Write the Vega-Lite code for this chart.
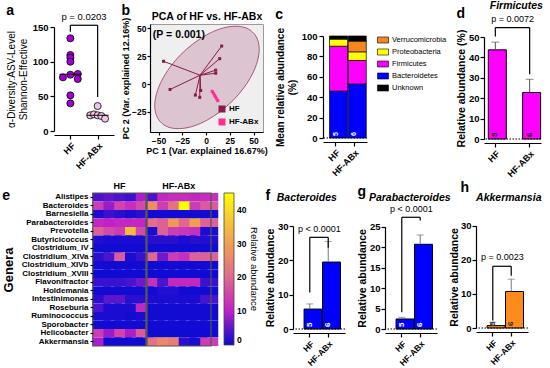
{
"$schema": "https://vega.github.io/schema/vega-lite/v6.json",
"padding": {"left": 2, "top": 0, "right": 0, "bottom": 0},
"spacing": 2,
"config": {
  "font": "Liberation Sans",
  "view": {"stroke": null},
  "axis": {"labelFont": "Liberation Sans", "titleFont": "Liberation Sans", "labelFontSize": 9.5, "labelFontWeight": "bold", "labelColor": "#000", "titleFontSize": 10.5, "titleFontWeight": "bold", "titleColor": "#000", "domainColor": "#000", "tickColor": "#000", "domainWidth": 1.2, "tickWidth": 1.2, "tickSize": 4, "grid": false, "labelPadding": 2, "titlePadding": 4, "labelOverlap": false},
  "title": {"anchor": "start", "frame": "bounds", "fontSize": 14, "fontWeight": "bold", "font": "Liberation Sans", "color": "#000", "offset": 2},
  "legend": {"labelFont": "Liberation Sans", "titleFont": "Liberation Sans", "labelColor": "#000", "titleColor": "#000"}
},
"resolve": {"scale": {"color": "independent"}},
"vconcat": [
{
  "spacing": 7,
  "align": "each",
  "resolve": {"scale": {"color": "independent"}},
  "hconcat": [
  {
    "width": 60, "height": 107,
    "title": {"text": "a", "offset": -6},
    "resolve": {"axis": {"x": "independent", "y": "independent"}},
    "layer": [
      {
        "data": {"values": [
          {"group":"HF","v":133.7,"lane":0},{"group":"HF","v":109.6,"lane":0},{"group":"HF","v":105.8,"lane":0},{"group":"HF","v":100,"lane":0},
          {"group":"HF","v":81.2,"lane":0},{"group":"HF","v":77.4,"lane":-2},{"group":"HF","v":82.2,"lane":2},{"group":"HF","v":75,"lane":2},
          {"group":"HF","v":51.4,"lane":0},{"group":"HF","v":39.9,"lane":0},
          {"group":"HF-ABx","v":36,"lane":0},{"group":"HF-ABx","v":22.6,"lane":-2},{"group":"HF-ABx","v":24,"lane":-1},
          {"group":"HF-ABx","v":22.6,"lane":0},{"group":"HF-ABx","v":21.6,"lane":1},{"group":"HF-ABx","v":17.8,"lane":2}
        ]},
        "mark": {"type": "circle", "size": 50, "stroke": "#000", "strokeWidth": 0.8, "opacity": 1},
        "encoding": {
          "x": {"field": "group", "type": "nominal", "scale": {"type": "point", "padding": 0.6, "domain": ["HF","HF-ABx"]}, "axis": {"title": null, "labelAngle": -45, "offset": 4, "labelFontSize": 9}},
          "xOffset": {"field": "lane", "type": "quantitative", "scale": {"domain": [-3,3], "range": [-11.1, 11.1]}},
          "y": {"field": "v", "type": "quantitative", "scale": {"domain": [0,150], "nice": false, "range": [107, 3]}, "axis": {"values": [0,50,100,150], "title": ["α-Diversity:ASV-Level","Shannon-Effective"], "titleFontWeight": "normal", "titleFontSize": 10}},
          "fill": {"field": "group", "type": "nominal", "scale": {"domain": ["HF","HF-ABx"], "range": ["#a300d6","#f2c4ea"]}, "legend": null}
        }
      },
      {
        "data": {"values": [{"group":"HF","v":81.7},{"group":"HF-ABx","v":22.6}]},
        "mark": {"type": "tick", "color": "#000", "size": 22, "thickness": 1.3, "orient": "horizontal"},
        "encoding": {
          "x": {"field": "group", "type": "nominal", "axis": null},
          "y": {"field": "v", "type": "quantitative", "axis": null}
        }
      },
      {
        "data": {"values": [
          {"group":"HF","g2":"HF-ABx","v":152.5,"v2":152.5},
          {"group":"HF","g2":"HF","v":152.5,"v2":143},
          {"group":"HF-ABx","g2":"HF-ABx","v":152.5,"v2":49}
        ]},
        "mark": {"type": "rule", "color": "#000", "strokeWidth": 1.2},
        "encoding": {
          "x": {"field": "group", "type": "nominal", "axis": null},
          "x2": {"field": "g2"},
          "y": {"field": "v", "type": "quantitative", "axis": null},
          "y2": {"field": "v2"}
        }
      },
      {
        "data": {"values": [{"group":"HF","v":157,"label":"p = 0.0203"}]},
        "mark": {"type": "text", "baseline": "bottom", "fontSize": 9.5, "dx": 13.6},
        "encoding": {
          "x": {"field": "group", "type": "nominal", "axis": null},
          "y": {"field": "v", "type": "quantitative", "axis": null},
          "text": {"field": "label"}
        }
      }
    ]
  },
  {
    "width": 113, "height": 108,
    "title": {"text": "b", "offset": -7},
    "view": {"fill": "#efefef", "stroke": "#9a9a9a", "strokeWidth": 1},
    "resolve": {"axis": {"x": "independent", "y": "independent"}},
    "layer": [
      {
        "data": {"values": [
          {"t":0,"px":56,"py":31.3},{"t":15,"px":54.1,"py":40.4},{"t":30,"px":48.6,"py":47.1},{"t":45,"px":39.9,"py":51.1},
          {"t":60,"px":28.5,"py":51.9},{"t":75,"px":15.2,"py":49.7},{"t":90,"px":1,"py":44.4},{"t":105,"px":-13.2,"py":36.5},
          {"t":120,"px":-26.5,"py":26.6},{"t":135,"px":-37.9,"py":15.2},{"t":150,"px":-46.6,"py":3.3},{"t":165,"px":-52.1,"py":-8.5},
          {"t":180,"px":-54,"py":-19.3},{"t":195,"px":-52.1,"py":-28.4},{"t":210,"px":-46.6,"py":-35.1},{"t":225,"px":-37.9,"py":-39.1},
          {"t":240,"px":-26.5,"py":-39.9},{"t":255,"px":-13.2,"py":-37.7},{"t":270,"px":1,"py":-32.4},{"t":285,"px":15.2,"py":-24.5},
          {"t":300,"px":28.5,"py":-14.6},{"t":315,"px":39.9,"py":-3.2},{"t":330,"px":48.6,"py":8.7},{"t":345,"px":54.1,"py":20.5}
        ]},
        "mark": {"type": "line", "interpolate": "cardinal-closed", "fill": "#dcc4d0", "stroke": "#a8587c", "strokeWidth": 1},
        "encoding": {
          "x": {"field": "px", "type": "quantitative", "scale": {"domain": [-59,60], "nice": false, "zero": false}, "axis": {"values": [-50,-25,0,25,50], "title": "PC 1 (Var. explained 16.67%)", "labelFontSize": 8.5, "titleFontSize": 9, "titlePadding": 2, "tickSize": 3, "labelPadding": 1, "orient": "bottom"}},
          "y": {"field": "py", "type": "quantitative", "scale": {"domain": [-43,54], "nice": false, "zero": false}, "axis": {"values": [-25,0,25,50], "title": "PC 2 (Var. explained 12.16%)", "labelFontSize": 8.5, "titleFontSize": 9, "titlePadding": 1, "tickSize": 3, "labelPadding": 1}},
          "order": {"field": "t", "type": "quantitative"}
        }
      },
      {
        "data": {"name": "pca", "values": [
          {"group":"HF","px":16.5,"py":34.2,"cx":-6.3,"cy":8},{"group":"HF","px":14.4,"py":22.9,"cx":-6.3,"cy":8},
          {"group":"HF","px":-44.8,"py":20.5,"cx":-6.3,"cy":8},{"group":"HF","px":10.2,"py":12.5,"cx":-6.3,"cy":8},
          {"group":"HF","px":10.2,"py":9.8,"cx":-6.3,"cy":8},{"group":"HF","px":-37.9,"py":-4.8,"cx":-6.3,"cy":8},
          {"group":"HF","px":-11.2,"py":-9.8,"cx":-6.3,"cy":8},{"group":"HF","px":-6.6,"py":-11.9,"cx":-6.3,"cy":8},
          {"group":"HF","px":-5.6,"py":-5.7,"cx":-6.3,"cy":8},
          {"group":"HF-ABx","px":6.5,"py":-6.5,"cx":9.5,"cy":-10.7},{"group":"HF-ABx","px":7.8,"py":-8.2,"cx":9.5,"cy":-10.7},
          {"group":"HF-ABx","px":9,"py":-10,"cx":9.5,"cy":-10.7},{"group":"HF-ABx","px":10,"py":-11.5,"cx":9.5,"cy":-10.7},
          {"group":"HF-ABx","px":11.2,"py":-13.2,"cx":9.5,"cy":-10.7},{"group":"HF-ABx","px":12.4,"py":-14.8,"cx":9.5,"cy":-10.7}
        ]},
        "mark": {"type": "rule", "strokeWidth": 1},
        "encoding": {
          "x": {"field": "px", "type": "quantitative", "axis": null},
          "y": {"field": "py", "type": "quantitative", "axis": null},
          "x2": {"field": "cx"},
          "y2": {"field": "cy"},
          "color": {"field": "group", "type": "nominal", "scale": {"domain": ["HF","HF-ABx"], "range": ["#8b1a4a","#ff2d95"]},
            "legend": {"orient": "bottom-right", "title": null, "labelFontSize": 8, "labelFontWeight": "bold", "symbolType": "square", "symbolSize": 30, "offset": 2, "rowPadding": 1, "padding": 2, "labelOffset": 3}}
        }
      },
      {
        "data": {"name": "pca"},
        "mark": {"type": "point", "shape": "square", "filled": true, "size": 9, "opacity": 1},
        "encoding": {
          "x": {"field": "px", "type": "quantitative", "axis": null},
          "y": {"field": "py", "type": "quantitative", "axis": null},
          "color": {"field": "group", "type": "nominal"}
        }
      },
      {
        "data": {"values": [{"px": -56, "py": 44.5, "label": "(P = 0.001)"}]},
        "mark": {"type": "text", "align": "left", "baseline": "middle", "fontSize": 10.5, "fontWeight": "bold"},
        "encoding": {
          "x": {"field": "px", "type": "quantitative", "axis": {"orient": "top", "title": "PCA of HF vs. HF-ABx", "labels": false, "ticks": false, "domain": false, "titlePadding": 3, "titleFontSize": 10.5}},
          "y": {"field": "py", "type": "quantitative", "axis": null},
          "text": {"field": "label"}
        }
      }
    ]
  },
  {
    "spacing": -1,
    "align": "each",
    "resolve": {"scale": {"color": "independent"}},
    "hconcat": [
    {
      "width": 44, "height": 114,
      "title": {"text": "c", "offset": 2},
      "resolve": {"axis": {"x": "independent", "y": "independent"}},
      "layer": [
        {
          "data": {"values": [
            {"group":"HF","phylum":"Bacteroidetes","pct":46,"ord":1},
            {"group":"HF","phylum":"Firmicutes","pct":44,"ord":2},
            {"group":"HF","phylum":"Proteobacteria","pct":7,"ord":3},
            {"group":"HF","phylum":"Verrucomicrobia","pct":0.4,"ord":4},
            {"group":"HF","phylum":"Unknown","pct":2.6,"ord":5},
            {"group":"HF-ABx","phylum":"Bacteroidetes","pct":53,"ord":1},
            {"group":"HF-ABx","phylum":"Firmicutes","pct":23,"ord":2},
            {"group":"HF-ABx","phylum":"Proteobacteria","pct":8.5,"ord":3},
            {"group":"HF-ABx","phylum":"Verrucomicrobia","pct":10.5,"ord":4},
            {"group":"HF-ABx","phylum":"Unknown","pct":5,"ord":5}
          ]},
          "mark": {"type": "bar", "stroke": "#000", "strokeWidth": 0.7},
          "encoding": {
            "x": {"field": "group", "type": "nominal", "scale": {"domain": ["HF","HF-ABx"], "paddingInner": 0.35, "paddingOuter": 0.35}, "axis": {"title": null, "labelAngle": -45, "offset": 4, "labelFontSize": 9}},
            "y": {"field": "pct", "type": "quantitative", "stack": "zero", "scale": {"domain": [0,100], "nice": false, "range": [114, 12]}, "axis": {"values": [0,20,40,60,80,100], "title": ["Mean relative abundance","(%)"], "titleFontSize": 10}},
            "color": {"field": "phylum", "type": "nominal", "scale": {"domain": ["Verrucomicrobia","Proteobacteria","Firmicutes","Bacteroidetes","Unknown"], "range": ["#f7861f","#ffff00","#ff00ff","#0000ff","#000000"]},
              "legend": {"orient": "right", "title": null, "offset": 0, "padding": 10, "symbolType": "M-1,-0.55H1V0.55H-1Z", "symbolSize": 121, "symbolStrokeColor": "#000", "symbolStrokeWidth": 0.6, "labelFontSize": 7.5, "labelOffset": 3, "rowPadding": 1}},
            "order": {"field": "ord", "type": "quantitative"}
          }
        },
        {
          "data": {"values": [{"group":"HF","n":"5"},{"group":"HF-ABx","n":"6"}]},
          "mark": {"type": "text", "angle": 270, "align": "left", "baseline": "middle", "dx": 2, "fontSize": 7, "fontWeight": "bold", "color": "#fff"},
          "encoding": {"x": {"field": "group", "type": "nominal", "axis": null}, "y": {"datum": 0, "type": "quantitative", "axis": null}, "text": {"field": "n"}}
        },
        {
          "data": {"values": [{}]},
          "mark": {"type": "rule", "strokeDash": [1.5,1.5], "color": "#000", "strokeWidth": 1},
          "encoding": {"y": {"datum": 0, "type": "quantitative", "axis": null}}
        }
      ]
    },
    {
      "width": 57, "height": 115,
      "title": {"text": "d", "offset": -20},
      "data": {"values": [{"group":"HF","m":43.7,"hi":47.5,"n":"5"},{"group":"HF-ABx","m":22.8,"hi":29.3,"n":"6"}]},
      "resolve": {"axis": {"x": "independent", "y": "independent"}},
      "layer": [
        {
          "mark": {"type": "bar", "fill": "#ff00ff", "stroke": "#000", "strokeWidth": 1},
          "encoding": {
            "x": {"field": "group", "type": "nominal", "scale": {"domain": ["HF","HF-ABx"], "paddingInner": 0.59, "paddingOuter": 0.125}, "axis": {"title": null, "labelAngle": -45, "offset": 4, "labelFontSize": 9}},
            "y": {"field": "m", "type": "quantitative", "scale": {"domain": [0,50], "nice": false, "range": [115, 13]}, "axis": {"values": [0,10,20,30,40,50], "title": "Relative abundance (%)", "titlePadding": 2, "labelPadding": 1}}
          }
        },
        {"mark": {"type": "rule", "color": "#555", "strokeWidth": 1}, "encoding": {"x": {"field": "group", "type": "nominal", "axis": null}, "y": {"field": "m", "type": "quantitative", "axis": null}, "y2": {"field": "hi"}}},
        {"mark": {"type": "tick", "color": "#555", "size": 8, "thickness": 1, "orient": "horizontal"}, "encoding": {"x": {"field": "group", "type": "nominal", "axis": null}, "y": {"field": "hi", "type": "quantitative", "axis": null}}},
        {"mark": {"type": "text", "angle": 270, "align": "left", "baseline": "middle", "dx": 2, "fontSize": 8, "fontWeight": "bold", "color": "#222"}, "encoding": {"x": {"field": "group", "type": "nominal", "axis": null}, "y": {"datum": 0, "type": "quantitative", "axis": null}, "text": {"field": "n"}}},
        {"data": {"values": [{}]}, "mark": {"type": "rule", "strokeDash": [1.5,1.5], "color": "#000", "strokeWidth": 1}, "encoding": {"y": {"datum": 0, "type": "quantitative", "axis": null}}},
        {
          "data": {"values": [{"group":"HF","g2":"HF-ABx","m":54.6,"m2":54.6},{"group":"HF","g2":"HF","m":54.6,"m2":50.3},{"group":"HF-ABx","g2":"HF-ABx","m":54.6,"m2":31.7}]},
          "mark": {"type": "rule", "color": "#000", "strokeWidth": 1.2},
          "encoding": {"x": {"field": "group", "type": "nominal", "axis": null}, "x2": {"field": "g2"}, "y": {"field": "m", "type": "quantitative", "axis": null}, "y2": {"field": "m2"}}
        },
        {
          "data": {"values": [{"group":"HF","m":56.4,"label":"p = 0.0072"}]},
          "mark": {"type": "text", "baseline": "bottom", "fontSize": 9, "dx": 17.2},
          "encoding": {"x": {"field": "group", "type": "nominal", "axis": null}, "y": {"field": "m", "type": "quantitative", "axis": null}, "text": {"field": "label"}}
        },
        {
          "data": {"values": [{"group":"HF","m":65.2,"label":"Firmicutes"}]},
          "mark": {"type": "text", "baseline": "middle", "fontSize": 10.5, "fontWeight": "bold", "fontStyle": "italic", "dx": 21},
          "encoding": {"x": {"field": "group", "type": "nominal", "axis": null}, "y": {"field": "m", "type": "quantitative", "axis": null}, "text": {"field": "label"}}
        }
      ]
    }
    ]
  }
  ]
},
{
  "spacing": 6,
  "align": "each",
  "resolve": {"scale": {"color": "independent"}},
  "hconcat": [
  {
    "width": 157, "height": 153,
    "title": {"text": "e", "offset": -21},
    "resolve": {"axis": {"x": "independent", "y": "independent"}},
    "layer": [
      {
        "data": {"values": [
{"g":"Alistipes","s":"H1","v":4},{"g":"Alistipes","s":"H2","v":5},{"g":"Alistipes","s":"H3","v":4},{"g":"Alistipes","s":"H4","v":3},{"g":"Alistipes","s":"H5","v":9},
{"g":"Alistipes","s":"A1","v":4},{"g":"Alistipes","s":"A2","v":11},{"g":"Alistipes","s":"A3","v":12},{"g":"Alistipes","s":"A4","v":12},{"g":"Alistipes","s":"A5","v":11},{"g":"Alistipes","s":"A6","v":12},
{"g":"Bacteroides","s":"H1","v":14},{"g":"Bacteroides","s":"H2","v":8},{"g":"Bacteroides","s":"H3","v":15},{"g":"Bacteroides","s":"H4","v":12},{"g":"Bacteroides","s":"H5","v":16},
{"g":"Bacteroides","s":"A1","v":27},{"g":"Bacteroides","s":"A2","v":14},{"g":"Bacteroides","s":"A3","v":22},{"g":"Bacteroides","s":"A4","v":45},{"g":"Bacteroides","s":"A5","v":14},{"g":"Bacteroides","s":"A6","v":18},
{"g":"Barnesiella","s":"H1","v":1},{"g":"Barnesiella","s":"H2","v":3},{"g":"Barnesiella","s":"H3","v":2},{"g":"Barnesiella","s":"H4","v":1},{"g":"Barnesiella","s":"H5","v":2},
{"g":"Barnesiella","s":"A1","v":0.5},{"g":"Barnesiella","s":"A2","v":0.5},{"g":"Barnesiella","s":"A3","v":0.5},{"g":"Barnesiella","s":"A4","v":0.5},{"g":"Barnesiella","s":"A5","v":0.5},{"g":"Barnesiella","s":"A6","v":0.5},
{"g":"Parabacteroides","s":"H1","v":11},{"g":"Parabacteroides","s":"H2","v":10},{"g":"Parabacteroides","s":"H3","v":11},{"g":"Parabacteroides","s":"H4","v":11},{"g":"Parabacteroides","s":"H5","v":11},
{"g":"Parabacteroides","s":"A1","v":21},{"g":"Parabacteroides","s":"A2","v":19},{"g":"Parabacteroides","s":"A3","v":29},{"g":"Parabacteroides","s":"A4","v":20},{"g":"Parabacteroides","s":"A5","v":30},{"g":"Parabacteroides","s":"A6","v":19},
{"g":"Prevotella","s":"H1","v":19},{"g":"Prevotella","s":"H2","v":16},{"g":"Prevotella","s":"H3","v":14},{"g":"Prevotella","s":"H4","v":35},{"g":"Prevotella","s":"H5","v":16},
{"g":"Prevotella","s":"A1","v":1},{"g":"Prevotella","s":"A2","v":19},{"g":"Prevotella","s":"A3","v":14},{"g":"Prevotella","s":"A4","v":13},{"g":"Prevotella","s":"A5","v":12},{"g":"Prevotella","s":"A6","v":1},
{"g":"Butyricicoccus","s":"H1","v":1.5},{"g":"Butyricicoccus","s":"H2","v":1},{"g":"Butyricicoccus","s":"H3","v":1},{"g":"Butyricicoccus","s":"H4","v":1},{"g":"Butyricicoccus","s":"H5","v":1},
{"g":"Butyricicoccus","s":"A1","v":2},{"g":"Butyricicoccus","s":"A2","v":2},{"g":"Butyricicoccus","s":"A3","v":2},{"g":"Butyricicoccus","s":"A4","v":1},{"g":"Butyricicoccus","s":"A5","v":2},{"g":"Butyricicoccus","s":"A6","v":1.5},
{"g":"Clostridium_IV","s":"H1","v":0.5},{"g":"Clostridium_IV","s":"H2","v":0.5},{"g":"Clostridium_IV","s":"H3","v":0.5},{"g":"Clostridium_IV","s":"H4","v":0.5},{"g":"Clostridium_IV","s":"H5","v":0.5},
{"g":"Clostridium_IV","s":"A1","v":0.5},{"g":"Clostridium_IV","s":"A2","v":0.5},{"g":"Clostridium_IV","s":"A3","v":0.5},{"g":"Clostridium_IV","s":"A4","v":0.5},{"g":"Clostridium_IV","s":"A5","v":0.5},{"g":"Clostridium_IV","s":"A6","v":0.5},
{"g":"Clostridium_XIVa","s":"H1","v":2},{"g":"Clostridium_XIVa","s":"H2","v":4},{"g":"Clostridium_XIVa","s":"H3","v":18},{"g":"Clostridium_XIVa","s":"H4","v":1},{"g":"Clostridium_XIVa","s":"H5","v":3},
{"g":"Clostridium_XIVa","s":"A1","v":20},{"g":"Clostridium_XIVa","s":"A2","v":6},{"g":"Clostridium_XIVa","s":"A3","v":14},{"g":"Clostridium_XIVa","s":"A4","v":12},{"g":"Clostridium_XIVa","s":"A5","v":19},{"g":"Clostridium_XIVa","s":"A6","v":19},
{"g":"Clostridium_XIVb","s":"H1","v":0.5},{"g":"Clostridium_XIVb","s":"H2","v":0.5},{"g":"Clostridium_XIVb","s":"H3","v":0.5},{"g":"Clostridium_XIVb","s":"H4","v":0.5},{"g":"Clostridium_XIVb","s":"H5","v":0.5},
{"g":"Clostridium_XIVb","s":"A1","v":0.5},{"g":"Clostridium_XIVb","s":"A2","v":0.5},{"g":"Clostridium_XIVb","s":"A3","v":0.5},{"g":"Clostridium_XIVb","s":"A4","v":0.5},{"g":"Clostridium_XIVb","s":"A5","v":0.5},{"g":"Clostridium_XIVb","s":"A6","v":0.5},
{"g":"Clostridium_XVIII","s":"H1","v":0.3},{"g":"Clostridium_XVIII","s":"H2","v":0.3},{"g":"Clostridium_XVIII","s":"H3","v":0.3},{"g":"Clostridium_XVIII","s":"H4","v":0.3},{"g":"Clostridium_XVIII","s":"H5","v":0.3},
{"g":"Clostridium_XVIII","s":"A1","v":0.3},{"g":"Clostridium_XVIII","s":"A2","v":0.3},{"g":"Clostridium_XVIII","s":"A3","v":0.3},{"g":"Clostridium_XVIII","s":"A4","v":0.3},{"g":"Clostridium_XVIII","s":"A5","v":0.3},{"g":"Clostridium_XVIII","s":"A6","v":0.3},
{"g":"Flavonifractor","s":"H1","v":3},{"g":"Flavonifractor","s":"H2","v":3},{"g":"Flavonifractor","s":"H3","v":3},{"g":"Flavonifractor","s":"H4","v":4},{"g":"Flavonifractor","s":"H5","v":6},
{"g":"Flavonifractor","s":"A1","v":12},{"g":"Flavonifractor","s":"A2","v":4},{"g":"Flavonifractor","s":"A3","v":11},{"g":"Flavonifractor","s":"A4","v":11},{"g":"Flavonifractor","s":"A5","v":11},{"g":"Flavonifractor","s":"A6","v":3},
{"g":"Holdemania","s":"H1","v":0.5},{"g":"Holdemania","s":"H2","v":0.5},{"g":"Holdemania","s":"H3","v":0.5},{"g":"Holdemania","s":"H4","v":0.5},{"g":"Holdemania","s":"H5","v":0.5},
{"g":"Holdemania","s":"A1","v":0.5},{"g":"Holdemania","s":"A2","v":1.5},{"g":"Holdemania","s":"A3","v":1.5},{"g":"Holdemania","s":"A4","v":0.5},{"g":"Holdemania","s":"A5","v":0.5},{"g":"Holdemania","s":"A6","v":0.5},
{"g":"Intestinimonas","s":"H1","v":2},{"g":"Intestinimonas","s":"H2","v":5},{"g":"Intestinimonas","s":"H3","v":5},{"g":"Intestinimonas","s":"H4","v":2},{"g":"Intestinimonas","s":"H5","v":2},
{"g":"Intestinimonas","s":"A1","v":1},{"g":"Intestinimonas","s":"A2","v":1},{"g":"Intestinimonas","s":"A3","v":1},{"g":"Intestinimonas","s":"A4","v":1},{"g":"Intestinimonas","s":"A5","v":1},{"g":"Intestinimonas","s":"A6","v":4},
{"g":"Roseburia","s":"H1","v":4},{"g":"Roseburia","s":"H2","v":1},{"g":"Roseburia","s":"H3","v":1},{"g":"Roseburia","s":"H4","v":1},{"g":"Roseburia","s":"H5","v":11},
{"g":"Roseburia","s":"A1","v":0.5},{"g":"Roseburia","s":"A2","v":0.5},{"g":"Roseburia","s":"A3","v":0.5},{"g":"Roseburia","s":"A4","v":0.5},{"g":"Roseburia","s":"A5","v":0.5},{"g":"Roseburia","s":"A6","v":0.5},
{"g":"Ruminococcus","s":"H1","v":1},{"g":"Ruminococcus","s":"H2","v":1},{"g":"Ruminococcus","s":"H3","v":1},{"g":"Ruminococcus","s":"H4","v":0.5},{"g":"Ruminococcus","s":"H5","v":1},
{"g":"Ruminococcus","s":"A1","v":0.5},{"g":"Ruminococcus","s":"A2","v":0.5},{"g":"Ruminococcus","s":"A3","v":0.5},{"g":"Ruminococcus","s":"A4","v":0.5},{"g":"Ruminococcus","s":"A5","v":0.5},{"g":"Ruminococcus","s":"A6","v":0.5},
{"g":"Sporobacter","s":"H1","v":0.5},{"g":"Sporobacter","s":"H2","v":0.5},{"g":"Sporobacter","s":"H3","v":0.5},{"g":"Sporobacter","s":"H4","v":0.5},{"g":"Sporobacter","s":"H5","v":0.5},
{"g":"Sporobacter","s":"A1","v":0.5},{"g":"Sporobacter","s":"A2","v":0.5},{"g":"Sporobacter","s":"A3","v":0.5},{"g":"Sporobacter","s":"A4","v":0.5},{"g":"Sporobacter","s":"A5","v":0.5},{"g":"Sporobacter","s":"A6","v":0.5},
{"g":"Helicobacter","s":"H1","v":14},{"g":"Helicobacter","s":"H2","v":8},{"g":"Helicobacter","s":"H3","v":15},{"g":"Helicobacter","s":"H4","v":9},{"g":"Helicobacter","s":"H5","v":18},
{"g":"Helicobacter","s":"A1","v":0.3},{"g":"Helicobacter","s":"A2","v":0.3},{"g":"Helicobacter","s":"A3","v":0.3},{"g":"Helicobacter","s":"A4","v":0.3},{"g":"Helicobacter","s":"A5","v":0.3},{"g":"Helicobacter","s":"A6","v":0.3},
{"g":"Akkermansia","s":"H1","v":9},{"g":"Akkermansia","s":"H2","v":0.3},{"g":"Akkermansia","s":"H3","v":0.3},{"g":"Akkermansia","s":"H4","v":0.3},{"g":"Akkermansia","s":"H5","v":0.3},
{"g":"Akkermansia","s":"A1","v":22},{"g":"Akkermansia","s":"A2","v":26},{"g":"Akkermansia","s":"A3","v":24},{"g":"Akkermansia","s":"A4","v":2},{"g":"Akkermansia","s":"A5","v":1},{"g":"Akkermansia","s":"A6","v":14}
        ]},
        "mark": "rect",
        "encoding": {
          "x": {"field": "s", "type": "ordinal", "scale": {"domain": ["_1","_2","_3","H1","H2","H3","H4","H5","A1","A2","A3","A4","A5","A6"], "paddingInner": 0, "paddingOuter": 0.3, "align": 1}, "axis": null},
          "y": {"field": "g", "type": "nominal", "scale": {"domain": ["Alistipes","Bacteroides","Barnesiella","Parabacteroides","Prevotella","Butyricicoccus","Clostridium_IV","Clostridium_XIVa","Clostridium_XIVb","Clostridium_XVIII","Flavonifractor","Holdemania","Intestinimonas","Roseburia","Ruminococcus","Sporobacter","Helicobacter","Akkermansia"], "paddingInner": 0, "paddingOuter": 0},
            "axis": {"title": "Genera", "titleFontSize": 13, "labelFontSize": 8, "tickSize": 3, "domain": false, "labelPadding": 2, "titlePadding": 6, "offset": -39}},
          "color": {"field": "v", "type": "quantitative",
            "scale": {"domain": [0,4,10,20,30,38,45], "range": ["#0a0ad2","#4a14cc","#c020c8","#e06890","#f0a050","#f8cc30","#ffff00"], "interpolate": "rgb"},
            "legend": {"orient": "right", "direction": "vertical", "offset": 13, "gradientLength": 152, "gradientThickness": 10, "values": [0,10,20,30,40], "labelFontSize": 8.5, "labelFontWeight": "bold", "labelOffset": 3, "title": "Relative abundance", "titleOrient": "right", "titleFontWeight": "normal", "titleFontSize": 9.5, "titlePadding": 3, "gradientStrokeColor": "#444", "gradientStrokeWidth": 0.8}}
        }
      },
      {
        "data": {"values": [{}]},
        "mark": {"type": "rect", "filled": false, "stroke": "#555", "strokeWidth": 1.2},
        "encoding": {
          "x": {"datum": "H1", "type": "ordinal", "bandPosition": 0, "axis": null},
          "x2": {"datum": "A6", "bandPosition": 1}
        }
      },
      {
        "data": {"values": [{}]},
        "mark": {"type": "rule", "stroke": "#555", "strokeWidth": 2.4},
        "encoding": {"x": {"datum": "A1", "type": "ordinal", "bandPosition": 0, "axis": null}}
      },
      {
        "data": {"values": [{}]},
        "mark": {"type": "text", "baseline": "bottom", "fontSize": 9, "fontWeight": "bold", "dy": -2},
        "encoding": {
          "x": {"datum": "H3", "type": "ordinal", "axis": null},
          "y": {"datum": "Alistipes", "type": "nominal", "bandPosition": 0, "axis": null},
          "text": {"value": "HF"}
        }
      },
      {
        "data": {"values": [{}]},
        "mark": {"type": "text", "baseline": "bottom", "fontSize": 9, "fontWeight": "bold", "dy": -2},
        "encoding": {
          "x": {"datum": "A3", "type": "ordinal", "bandPosition": 1, "axis": null},
          "y": {"datum": "Alistipes", "type": "nominal", "bandPosition": 0, "axis": null},
          "text": {"value": "HF-ABx"}
        }
      }
    ]
  },
  {
    "spacing": 11,
    "align": "each",
    "hconcat": [
    {
      "width": 52, "height": 136,
      "title": {"text": "f", "offset": -10},
      "data": {"values": [{"group":"HF","m":5.8,"hi":7.3,"n":"5"},{"group":"HF-ABx","m":19.5,"hi":25.5,"n":"6"}]},
      "resolve": {"axis": {"x": "independent", "y": "independent"}},
      "layer": [
        {
          "mark": {"type": "bar", "fill": "#0000ff", "stroke": "#000", "strokeWidth": 1},
          "encoding": {
            "x": {"field": "group", "type": "nominal", "scale": {"domain": ["HF","HF-ABx"], "paddingInner": 0.38, "paddingOuter": 0.6}, "axis": {"title": null, "labelAngle": -45, "offset": 4, "labelFontSize": 8.5}},
            "y": {"field": "m", "type": "quantitative", "scale": {"domain": [0,30], "nice": false, "range": [136, 33]}, "axis": {"values": [0,10,20,30], "title": "Relative abundance", "titlePadding": 2, "labelPadding": 1}}
          }
        },
        {"mark": {"type": "rule", "color": "#777", "strokeWidth": 1}, "encoding": {"x": {"field": "group", "type": "nominal", "axis": null}, "y": {"field": "m", "type": "quantitative", "axis": null}, "y2": {"field": "hi"}}},
        {"mark": {"type": "tick", "color": "#777", "size": 7, "thickness": 1, "orient": "horizontal"}, "encoding": {"x": {"field": "group", "type": "nominal", "axis": null}, "y": {"field": "hi", "type": "quantitative", "axis": null}}},
        {"mark": {"type": "text", "angle": 270, "align": "left", "baseline": "middle", "dx": 2, "fontSize": 8, "fontWeight": "bold", "color": "#fff"}, "encoding": {"x": {"field": "group", "type": "nominal", "axis": null}, "y": {"datum": 0, "type": "quantitative", "axis": null}, "text": {"field": "n"}}},
        {"data": {"values": [{}]}, "mark": {"type": "rule", "strokeDash": [1.5,1.5], "color": "#000", "strokeWidth": 1}, "encoding": {"y": {"datum": 0, "type": "quantitative", "axis": null}}},
        {
          "data": {"values": [{"group":"HF","g2":"HF-ABx","m":26.7,"m2":26.7},{"group":"HF","g2":"HF","m":26.7,"m2":10.6},{"group":"HF-ABx","g2":"HF-ABx","m":26.7,"m2":23.7}]},
          "mark": {"type": "rule", "color": "#000", "strokeWidth": 1.2},
          "encoding": {"x": {"field": "group", "type": "nominal", "axis": null}, "x2": {"field": "g2"}, "y": {"field": "m", "type": "quantitative", "axis": null}, "y2": {"field": "m2"}}
        },
        {
          "data": {"values": [{"group":"HF","m":27.6,"label":"p < 0.0001"}]},
          "mark": {"type": "text", "baseline": "bottom", "fontSize": 9, "dx": 9.5},
          "encoding": {"x": {"field": "group", "type": "nominal", "axis": null}, "y": {"field": "m", "type": "quantitative", "axis": null}, "text": {"field": "label"}}
        },
        {
          "data": {"values": [{"group":"HF","m":38.2,"label":"Bacteroides"}]},
          "mark": {"type": "text", "baseline": "middle", "fontSize": 10.5, "fontWeight": "bold", "fontStyle": "italic", "dx": -3},
          "encoding": {"x": {"field": "group", "type": "nominal", "axis": null}, "y": {"field": "m", "type": "quantitative", "axis": null}, "text": {"field": "label"}}
        }
      ]
    },
    {
      "spacing": -2,
      "align": "each",
      "hconcat": [
      {
        "width": 52, "height": 136,
        "title": {"text": "g", "offset": -6},
        "data": {"values": [{"group":"HF","m":2.45,"hi":2.85,"n":"5"},{"group":"HF-ABx","m":20.7,"hi":23,"n":"6"}]},
        "resolve": {"axis": {"x": "independent", "y": "independent"}},
        "layer": [
          {
            "mark": {"type": "bar", "fill": "#0000ff", "stroke": "#000", "strokeWidth": 1},
            "encoding": {
              "x": {"field": "group", "type": "nominal", "scale": {"domain": ["HF","HF-ABx"], "paddingInner": 0.38, "paddingOuter": 0.6}, "axis": {"title": null, "labelAngle": -45, "offset": 4, "labelFontSize": 8.5}},
              "y": {"field": "m", "type": "quantitative", "scale": {"domain": [0,25], "nice": false, "range": [136, 33.7]}, "axis": {"values": [0,5,10,15,20,25], "title": "Relative abundance", "titlePadding": 2, "labelPadding": 1}}
            }
          },
          {"mark": {"type": "rule", "color": "#777", "strokeWidth": 1}, "encoding": {"x": {"field": "group", "type": "nominal", "axis": null}, "y": {"field": "m", "type": "quantitative", "axis": null}, "y2": {"field": "hi"}}},
          {"mark": {"type": "tick", "color": "#777", "size": 7, "thickness": 1, "orient": "horizontal"}, "encoding": {"x": {"field": "group", "type": "nominal", "axis": null}, "y": {"field": "hi", "type": "quantitative", "axis": null}}},
          {"mark": {"type": "text", "angle": 270, "align": "left", "baseline": "middle", "dx": 2, "fontSize": 8, "fontWeight": "bold", "color": "#fff"}, "encoding": {"x": {"field": "group", "type": "nominal", "axis": null}, "y": {"datum": 0, "type": "quantitative", "axis": null}, "text": {"field": "n"}}},
          {"data": {"values": [{}]}, "mark": {"type": "rule", "strokeDash": [1.5,1.5], "color": "#000", "strokeWidth": 1}, "encoding": {"y": {"datum": 0, "type": "quantitative", "axis": null}}},
          {
            "data": {"values": [{"group":"HF","g2":"HF-ABx","m":27.3,"m2":27.3},{"group":"HF","g2":"HF","m":27.3,"m2":4.1},{"group":"HF-ABx","g2":"HF-ABx","m":27.3,"m2":26.5}]},
            "mark": {"type": "rule", "color": "#000", "strokeWidth": 1.2},
            "encoding": {"x": {"field": "group", "type": "nominal", "axis": null}, "x2": {"field": "g2"}, "y": {"field": "m", "type": "quantitative", "axis": null}, "y2": {"field": "m2"}}
          },
          {
            "data": {"values": [{"group":"HF","m":28.2,"label":"p < 0.0001"}]},
            "mark": {"type": "text", "baseline": "bottom", "fontSize": 9, "dx": 9.5},
            "encoding": {"x": {"field": "group", "type": "nominal", "axis": null}, "y": {"field": "m", "type": "quantitative", "axis": null}, "text": {"field": "label"}}
          },
          {
            "data": {"values": [{"group":"HF","m":32,"label":"Parabacteroides"}]},
            "mark": {"type": "text", "baseline": "middle", "fontSize": 10.5, "fontWeight": "bold", "fontStyle": "italic", "dx": 8},
            "encoding": {"x": {"field": "group", "type": "nominal", "axis": null}, "y": {"field": "m", "type": "quantitative", "axis": null}, "text": {"field": "label"}}
          }
        ]
      },
      {
        "width": 52, "height": 135,
        "title": {"text": "h", "offset": -2, "dx": 11},
        "data": {"values": [{"group":"HF","m":0.7,"hi":1.7,"n":"5"},{"group":"HF-ABx","m":10.7,"hi":14.3,"n":"6"}]},
        "resolve": {"axis": {"x": "independent", "y": "independent"}},
        "layer": [
          {
            "mark": {"type": "bar", "fill": "#ff8c1a", "stroke": "#000", "strokeWidth": 1},
            "encoding": {
              "x": {"field": "group", "type": "nominal", "scale": {"domain": ["HF","HF-ABx"], "paddingInner": 0.38, "paddingOuter": 0.6}, "axis": {"title": null, "labelAngle": -45, "offset": 4, "labelFontSize": 8.5}},
              "y": {"field": "m", "type": "quantitative", "scale": {"domain": [0,30], "nice": false, "range": [135, 32.7]}, "axis": {"values": [0,10,20,30], "title": "Relative abundance", "titlePadding": 1, "labelPadding": 1}}
            }
          },
          {"mark": {"type": "rule", "color": "#777", "strokeWidth": 1}, "encoding": {"x": {"field": "group", "type": "nominal", "axis": null}, "y": {"field": "m", "type": "quantitative", "axis": null}, "y2": {"field": "hi"}}},
          {"mark": {"type": "tick", "color": "#777", "size": 7, "thickness": 1, "orient": "horizontal"}, "encoding": {"x": {"field": "group", "type": "nominal", "axis": null}, "y": {"field": "hi", "type": "quantitative", "axis": null}}},
          {"mark": {"type": "text", "angle": 270, "align": "left", "baseline": "middle", "dx": 2, "fontSize": 8, "fontWeight": "bold", "color": "#333"}, "encoding": {"x": {"field": "group", "type": "nominal", "axis": null}, "y": {"datum": 0, "type": "quantitative", "axis": null}, "text": {"field": "n"}}},
          {"data": {"values": [{}]}, "mark": {"type": "rule", "strokeDash": [1.5,1.5], "color": "#000", "strokeWidth": 1}, "encoding": {"y": {"datum": 0, "type": "quantitative", "axis": null}}},
          {
            "data": {"values": [{"group":"HF","g2":"HF-ABx","m":18.1,"m2":18.1},{"group":"HF","g2":"HF","m":18.1,"m2":2.2},{"group":"HF-ABx","g2":"HF-ABx","m":18.1,"m2":15.3}]},
            "mark": {"type": "rule", "color": "#000", "strokeWidth": 1.2},
            "encoding": {"x": {"field": "group", "type": "nominal", "axis": null}, "x2": {"field": "g2"}, "y": {"field": "m", "type": "quantitative", "axis": null}, "y2": {"field": "m2"}}
          },
          {
            "data": {"values": [{"group":"HF","m":19.3,"label":"p = 0.0023"}]},
            "mark": {"type": "text", "baseline": "bottom", "fontSize": 9, "dx": 9.5},
            "encoding": {"x": {"field": "group", "type": "nominal", "axis": null}, "y": {"field": "m", "type": "quantitative", "axis": null}, "text": {"field": "label"}}
          },
          {
            "data": {"values": [{"group":"HF","m":38.1,"label":"Akkermansia"}]},
            "mark": {"type": "text", "baseline": "middle", "fontSize": 10.5, "fontWeight": "bold", "fontStyle": "italic", "dx": 16},
            "encoding": {"x": {"field": "group", "type": "nominal", "axis": null}, "y": {"field": "m", "type": "quantitative", "axis": null}, "text": {"field": "label"}}
          }
        ]
      }
      ]
    }
    ]
  }
  ]
}
]
}
